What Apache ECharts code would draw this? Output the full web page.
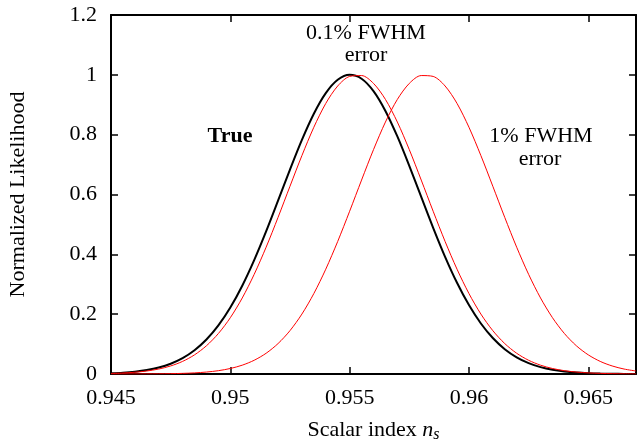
<!DOCTYPE html>
<html>
<head>
<meta charset="utf-8">
<script src="https://cdn.jsdelivr.net/npm/echarts@6/dist/echarts.min.js"></script>
<style>
html,body{margin:0;padding:0;background:#fff;}
#chart{width:637px;height:443px;}
</style>
</head>
<body>
<div id="chart"></div>
<script>
// Scalar index n_s sample positions
const nsGrid = [0.945,0.9455,0.946,0.9465,0.947,0.9475,0.948,0.9485,0.949,0.9495,
  0.95,0.9505,0.951,0.9515,0.952,0.9525,0.953,0.9535,0.954,0.9545,
  0.955,0.9555,0.956,0.9565,0.957,0.9575,0.958,0.9585,0.959,0.9595,
  0.96,0.9605,0.961,0.9615,0.962,0.9625,0.963,0.9635,0.964,0.9645,
  0.965,0.9655,0.966,0.9665,0.967];

// True likelihood (black)
const trueLike = [0.0025,0.0045,0.0079,0.0132,0.0216,0.0344,0.0530,0.0793,0.1151,0.1623,
  0.2222,0.2952,0.3808,0.4767,0.5794,0.6835,0.7827,0.8701,0.9389,0.9834,
  1.0000,0.9870,0.9456,0.8794,0.7940,0.6958,0.5919,0.4888,0.3918,0.3049,
  0.2303,0.1688,0.1202,0.0830,0.0557,0.0362,0.0229,0.0140,0.0084,0.0048,
  0.0027,0.0015,0.0008,0.0004,0.0002];

// 0.1% FWHM error (red)
const err01Like = [0.0018,0.0033,0.0059,0.0100,0.0166,0.0269,0.0421,0.0640,0.0944,0.1353,
  0.1882,0.2541,0.3331,0.4238,0.5234,0.6275,0.7301,0.8248,0.9044,0.9627,
  0.9947,0.9976,0.9713,0.9179,0.8421,0.7500,0.6483,0.5440,0.4431,0.3504,
  0.2689,0.2004,0.1449,0.1017,0.0693,0.0459,0.0295,0.0184,0.0111,0.0065,
  0.0037,0.0021,0.0011,0.0006,0.0003];

// 1% FWHM error (red)
const err1Like = [0.0000,0.0001,0.0001,0.0003,0.0006,0.0011,0.0021,0.0037,0.0065,0.0111,
  0.0184,0.0295,0.0459,0.0693,0.1017,0.1449,0.2004,0.2689,0.3504,0.4431,
  0.5440,0.6483,0.7500,0.8421,0.9179,0.9713,0.9976,0.9947,0.9627,0.9044,
  0.8248,0.7301,0.6275,0.5234,0.4238,0.3331,0.2541,0.1882,0.1353,0.0944,
  0.0640,0.0421,0.0269,0.0166,0.0100];

const xTicks = { min: 0.945, max: 0.967, interval: 0.005 };
const yTicks = { min: 0, max: 1.2, interval: 0.2 };

const FONT = '"Liberation Serif","Times New Roman",serif';
const pair = arr => nsGrid.map((x, i) => [x, arr[i]]);

const frameLine = { show: true, onZero: false, lineStyle: { color: '#000', width: 2 } };
const tickStyle = { show: true, inside: true, length: 7, lineStyle: { color: '#000', width: 1.5 } };

const chart = echarts.init(document.getElementById('chart'), null, { renderer: 'canvas' });
chart.setOption({
  animation: false,
  backgroundColor: '#fff',
  grid: { left: 111, right: 1, top: 15, bottom: 69, containLabel: false, outerBoundsMode: 'none' },
  xAxis: [
    {
      type: 'value', position: 'bottom',
      min: xTicks.min, max: xTicks.max, interval: xTicks.interval,
      axisLine: frameLine, axisTick: tickStyle, splitLine: { show: false },
      axisLabel: {
        color: '#000', fontFamily: FONT, fontSize: 22, margin: 13,
        showMaxLabel: false,
        formatter: v => String(+v.toFixed(3))
      },
      name: '{a|Scalar index }{i|n}{s|s}',
      nameLocation: 'middle', nameGap: 43,
      nameTextStyle: {
        color: '#000', fontFamily: FONT, fontSize: 22,
        rich: {
          a: { fontFamily: FONT, fontSize: 22, color: '#000' },
          i: { fontFamily: FONT, fontSize: 22, color: '#000', fontStyle: 'italic' },
          s: { fontFamily: FONT, fontSize: 16, color: '#000', fontStyle: 'italic', padding: [10, 0, 0, 0] }
        }
      }
    },
    {
      type: 'value', position: 'top',
      min: xTicks.min, max: xTicks.max, interval: xTicks.interval,
      axisLine: frameLine, axisTick: tickStyle, splitLine: { show: false },
      axisLabel: { show: false }
    }
  ],
  yAxis: [
    {
      type: 'value', position: 'left',
      min: yTicks.min, max: yTicks.max, interval: yTicks.interval,
      axisLine: frameLine, axisTick: tickStyle, splitLine: { show: false },
      axisLabel: {
        color: '#000', fontFamily: FONT, fontSize: 22, margin: 14,
        formatter: v => String(+v.toFixed(2))
      },
      name: 'Normalized Likelihood',
      nameLocation: 'middle', nameGap: 82, nameRotate: 90,
      nameTextStyle: { color: '#000', fontFamily: FONT, fontSize: 22 }
    },
    {
      type: 'value', position: 'right',
      min: yTicks.min, max: yTicks.max, interval: yTicks.interval,
      axisLine: frameLine, axisTick: tickStyle, splitLine: { show: false },
      axisLabel: { show: false }
    }
  ],
  series: [
    {
      name: 'True', type: 'line', xAxisIndex: 0, yAxisIndex: 0,
      data: pair(trueLike), showSymbol: false, smooth: 0.3,
      lineStyle: { color: '#000', width: 2 }, z: 3
    },
    {
      name: '0.1% FWHM error', type: 'line', xAxisIndex: 0, yAxisIndex: 0,
      data: pair(err01Like), showSymbol: false, smooth: 0.3,
      lineStyle: { color: '#ff0000', width: 1 }, z: 4
    },
    {
      name: '1% FWHM error', type: 'line', xAxisIndex: 0, yAxisIndex: 0,
      data: pair(err1Like), showSymbol: false, smooth: 0.3,
      lineStyle: { color: '#ff0000', width: 1 }, z: 4
    }
  ],
  graphic: [
    { type: 'text', x: 366, y: 33, style: { text: '0.1% FWHM', font: '22px ' + FONT, fill: '#000', textAlign: 'center', textVerticalAlign: 'middle' } },
    { type: 'text', x: 366, y: 55, style: { text: 'error', font: '22px ' + FONT, fill: '#000', textAlign: 'center', textVerticalAlign: 'middle' } },
    { type: 'text', x: 230, y: 136, style: { text: 'True', font: 'bold 22px ' + FONT, fill: '#000', textAlign: 'center', textVerticalAlign: 'middle' } },
    { type: 'text', x: 541, y: 136, style: { text: '1% FWHM', font: '22px ' + FONT, fill: '#000', textAlign: 'center', textVerticalAlign: 'middle' } },
    { type: 'text', x: 540, y: 159, style: { text: 'error', font: '22px ' + FONT, fill: '#000', textAlign: 'center', textVerticalAlign: 'middle' } }
  ]
});
</script>
</body>
</html>
